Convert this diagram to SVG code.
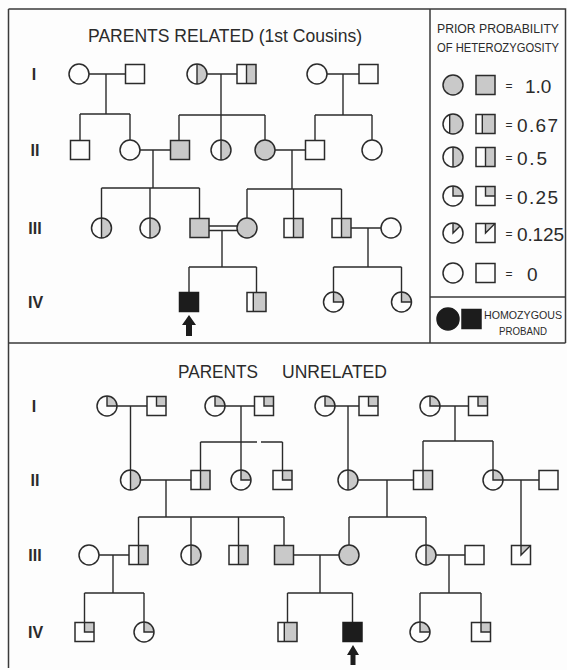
<svg xmlns="http://www.w3.org/2000/svg" width="567" height="670" viewBox="0 0 567 670">
<style>
.ln{fill:none;stroke:#2b2b2b;stroke-width:1.4}
.ol{fill:none;stroke:#2b2b2b;stroke-width:1.5}
.wf{fill:#fdfdfd}
.sh{fill:#c9c9c9}
.blk{fill:#1c1c1c;stroke:#1c1c1c;stroke-width:1.5}
.t{font-family:"Liberation Sans",Arial,sans-serif;fill:#2b2b2b}
.eq{font-family:"Liberation Sans",Arial,sans-serif;fill:#2b2b2b;font-size:12px}
.gen{font-family:"Liberation Sans",Arial,sans-serif;font-weight:bold;font-size:16px;fill:#2b2b2b;text-anchor:middle}
.frame{fill:none;stroke:#3a3a3a;stroke-width:1.5}
</style>
<defs>
<g id="c0"><circle r="10" class="wf"/><circle r="10" class="ol"/></g>
<g id="c1"><circle r="10" class="sh"/><circle r="10" class="ol"/></g>
<g id="c50"><circle r="10" class="wf"/><path d="M0,-10 A10,10 0 0 1 0,10 Z" class="sh"/><circle r="10" class="ol"/><path d="M0,-10 V10" class="ln"/></g>
<g id="c67"><circle r="10" class="wf"/><path d="M-3.33,-9.43 A10,10 0 1 1 -3.33,9.43 Z" class="sh"/><circle r="10" class="ol"/><path d="M-3.33,-9.43 V9.43" class="ln"/></g>
<g id="c25"><circle r="10" class="wf"/><path d="M0,0 V-10 A10,10 0 0 1 10,0 Z" class="sh"/><circle r="10" class="ol"/><path d="M0,-10 V0 H10" class="ln"/></g>
<g id="c125"><circle r="10" class="wf"/><path d="M0,0 V-10 A10,10 0 0 1 7.07,-7.07 Z" class="sh"/><circle r="10" class="ol"/><path d="M0,-10 V0 L7.07,-7.07" class="ln"/></g>
<g id="s0"><rect x="-9.5" y="-9.5" width="19" height="19" class="wf"/><rect x="-9.5" y="-9.5" width="19" height="19" class="ol"/></g>
<g id="s1"><rect x="-9.5" y="-9.5" width="19" height="19" class="sh"/><rect x="-9.5" y="-9.5" width="19" height="19" class="ol"/></g>
<g id="s50"><rect x="-9.5" y="-9.5" width="19" height="19" class="wf"/><rect x="0" y="-9.5" width="9.5" height="19" class="sh"/><rect x="-9.5" y="-9.5" width="19" height="19" class="ol"/><path d="M0,-9.5 V9.5" class="ln"/></g>
<g id="s67"><rect x="-9.5" y="-9.5" width="19" height="19" class="wf"/><rect x="-3.2" y="-9.5" width="12.7" height="19" class="sh"/><rect x="-9.5" y="-9.5" width="19" height="19" class="ol"/><path d="M-3.2,-9.5 V9.5" class="ln"/></g>
<g id="s25"><rect x="-9.5" y="-9.5" width="19" height="19" class="wf"/><rect x="0" y="-9.5" width="9.5" height="9.5" class="sh"/><rect x="-9.5" y="-9.5" width="19" height="19" class="ol"/><path d="M0,-9.5 V0 H9.5" class="ln"/></g>
<g id="s125"><rect x="-9.5" y="-9.5" width="19" height="19" class="wf"/><path d="M0,0 V-9.5 H9.5 Z" class="sh"/><rect x="-9.5" y="-9.5" width="19" height="19" class="ol"/><path d="M0,-9.5 V0 L9.5,-9.5" class="ln"/></g>
<g id="sB"><rect x="-9.5" y="-9.5" width="19" height="19" class="blk"/></g>
</defs>

<rect x="0" y="0" width="567" height="670" fill="#fdfdfd"/>

<g id="frame">
<path d="M8.5,9 H565.5 V343 M8.5,9 V668 M8.5,343 H565.5 M430,9 V343 M430,297 H565.5" class="frame"/>
</g>

<g id="titles">
<text class="t" x="88" y="42" font-size="19" textLength="274" lengthAdjust="spacingAndGlyphs">PARENTS RELATED (1st Cousins)</text>
<text class="t" x="178" y="378" font-size="18" textLength="80" lengthAdjust="spacingAndGlyphs">PARENTS</text>
<text class="t" x="282" y="378" font-size="18" textLength="105" lengthAdjust="spacingAndGlyphs">UNRELATED</text>
</g>

<g id="generation-labels">
<text class="gen" x="34" y="80">I</text>
<text class="gen" x="35" y="156">II</text>
<text class="gen" x="35" y="234">III</text>
<text class="gen" x="35.5" y="308">IV</text>
<text class="gen" x="34" y="412">I</text>
<text class="gen" x="35" y="486">II</text>
<text class="gen" x="35" y="561">III</text>
<text class="gen" x="35.5" y="638">IV</text>
</g>

<g id="legend">
<text class="t" x="437" y="33" font-size="12" textLength="122" lengthAdjust="spacingAndGlyphs">PRIOR PROBABILITY</text>
<text class="t" x="437" y="52" font-size="12" textLength="122" lengthAdjust="spacingAndGlyphs">OF HETEROZYGOSITY</text>
<use href="#c1" x="453" y="85"/><use href="#s1" x="485.5" y="85"/>
<text class="eq" x="505.5" y="89.5">=</text><text class="t" x="525" y="92.5" font-size="19">1.0</text>
<use href="#c67" x="453" y="124"/><use href="#s67" x="485.5" y="124"/>
<text class="eq" x="505.5" y="128.5">=</text><text class="t" x="517" y="131.5" font-size="19" textLength="41">0.67</text>
<use href="#c50" x="453" y="157"/><use href="#s50" x="485.5" y="157"/>
<text class="eq" x="505.5" y="161.5">=</text><text class="t" x="517" y="164.5" font-size="19" textLength="30">0.5</text>
<use href="#c25" x="453" y="196"/><use href="#s25" x="485.5" y="196"/>
<text class="eq" x="505.5" y="200.5">=</text><text class="t" x="517" y="203.5" font-size="19" textLength="41">0.25</text>
<use href="#c125" x="453" y="233"/><use href="#s125" x="485.5" y="233"/>
<text class="eq" x="505.5" y="237.5">=</text><text class="t" x="517" y="240.5" font-size="19" textLength="47">0.125</text>
<use href="#c0" x="453" y="273"/><use href="#s0" x="485.5" y="273"/>
<text class="eq" x="505.5" y="277.5">=</text><text class="t" x="527" y="280.5" font-size="19">0</text>
<circle cx="448" cy="319" r="11" class="blk"/>
<rect x="462" y="309.5" width="19" height="19" class="blk"/>
<text class="t" x="484" y="319" font-size="11.5" textLength="78" lengthAdjust="spacingAndGlyphs">HOMOZYGOUS</text>
<text class="t" x="499" y="334.5" font-size="11.5" textLength="48" lengthAdjust="spacingAndGlyphs">PROBAND</text>
</g>

<g id="connectors">
<!-- top panel -->
<path class="ln" d="M89,74 H125.5 M106,74 V114 M80,114 H130 M80,114 V140.5 M130,114 V140"/>
<path class="ln" d="M207,74 H237 M221,74 V140 M179,115 H265 M179,115 V140.5 M265,115 V140"/>
<path class="ln" d="M327,74 H359 M343,74 V115 M315,115 H372 M315,115 V140.5 M372,115 V140"/>
<path class="ln" d="M140,150 H170.5 M153,150 V188 M101.5,188 H199.5 M101.5,188 V218 M150,188 V218 M199.5,188 V218.5"/>
<path class="ln" d="M275,150 H305.5 M292,150 V189 M247,189 H341.5 M247,189 V218 M293.5,189 V218.5 M341.5,189 V218.5"/>
<path class="ln" d="M209,226 H237 M209,230.5 H237 M222,230.5 V267 M189,267 H256.5 M189,267 V292.5 M256.5,267 V292.5"/>
<path class="ln" d="M351,228 H381 M368,228 V267 M333.5,267 H401.5 M333.5,267 V292 M401.5,267 V292"/>
<!-- bottom panel -->
<path class="ln" d="M117,406 H147 M130.5,406 V470"/>
<path class="ln" d="M225,406 H254.5 M241,406 V470 M200.5,442 H257 M261,442 H282.5 M200.5,442 V470.5 M282.5,442 V470.5"/>
<path class="ln" d="M335,406 H359 M348,406 V470"/>
<path class="ln" d="M440,406 H468.5 M455,406 V441 M423,441 H493 M423,441 V470.5 M493,441 V470"/>
<path class="ln" d="M140.5,480 H191 M166,480 V517 M138.5,517 H284 M138.5,517 V545.5 M191,517 V545 M238.5,517 V545.5 M284,517 V545.5"/>
<path class="ln" d="M358,480 H413.5 M387,480 V517 M349,517 H426 M349,517 V545 M426,517 V545"/>
<path class="ln" d="M503,480 H539 M521,480 V545.5"/>
<path class="ln" d="M99,555 H129 M113,555 V593 M84.5,593 H144 M84.5,593 V622.5 M144,593 V622"/>
<path class="ln" d="M293.5,555 H339 M320,555 V593 M287.5,593 H352.5 M287.5,593 V622.5 M352.5,593 V622.5"/>
<path class="ln" d="M436,555 H465 M449,555 V593 M420,593 H481 M420,593 V622 M481,593 V622.5"/>
</g>

<!-- top panel nodes -->
<g id="t-I-1"><use href="#c0" x="79" y="74"/></g>
<g id="t-I-2"><use href="#s0" x="135" y="74"/></g>
<g id="t-I-3"><use href="#c50" x="197" y="74"/></g>
<g id="t-I-4"><use href="#s50" x="246.5" y="74"/></g>
<g id="t-I-5"><use href="#c0" x="317" y="74"/></g>
<g id="t-I-6"><use href="#s0" x="368.5" y="74"/></g>
<g id="t-II-1"><use href="#s0" x="80" y="150"/></g>
<g id="t-II-2"><use href="#c0" x="130" y="150"/></g>
<g id="t-II-3"><use href="#s1" x="180" y="150"/></g>
<g id="t-II-4"><use href="#c50" x="221" y="150"/></g>
<g id="t-II-5"><use href="#c1" x="265" y="150"/></g>
<g id="t-II-6"><use href="#s0" x="315" y="150"/></g>
<g id="t-II-7"><use href="#c0" x="372" y="150"/></g>
<g id="t-III-1"><use href="#c50" x="101.5" y="228"/></g>
<g id="t-III-2"><use href="#c50" x="150" y="228"/></g>
<g id="t-III-3"><use href="#s1" x="199.5" y="228"/></g>
<g id="t-III-4"><use href="#c1" x="247" y="228"/></g>
<g id="t-III-5"><use href="#s50" x="293.5" y="228"/></g>
<g id="t-III-6"><use href="#s50" x="341.5" y="228"/></g>
<g id="t-III-7"><use href="#c0" x="391" y="228"/></g>
<g id="t-IV-1"><use href="#sB" x="189" y="302"/><polygon points="189,315 182,325 186,325 186,336 192,336 192,325 196,325" fill="#1c1c1c"/></g>
<g id="t-IV-2"><use href="#s67" x="256.5" y="302"/></g>
<g id="t-IV-3"><use href="#c25" x="333.5" y="302"/></g>
<g id="t-IV-4"><use href="#c25" x="401.5" y="302"/></g>

<!-- bottom panel nodes -->
<g id="b-I-1"><use href="#c25" x="107" y="406"/></g>
<g id="b-I-2"><use href="#s25" x="156.5" y="406"/></g>
<g id="b-I-3"><use href="#c25" x="215" y="406"/></g>
<g id="b-I-4"><use href="#s25" x="264" y="406"/></g>
<g id="b-I-5"><use href="#c25" x="325" y="406"/></g>
<g id="b-I-6"><use href="#s25" x="368.5" y="406"/></g>
<g id="b-I-7"><use href="#c25" x="430" y="406"/></g>
<g id="b-I-8"><use href="#s25" x="478" y="406"/></g>
<g id="b-II-1"><use href="#c50" x="130.5" y="480"/></g>
<g id="b-II-2"><use href="#s50" x="200.5" y="480"/></g>
<g id="b-II-3"><use href="#c25" x="241" y="480"/></g>
<g id="b-II-4"><use href="#s25" x="282.5" y="480"/></g>
<g id="b-II-5"><use href="#c50" x="348" y="480"/></g>
<g id="b-II-6"><use href="#s50" x="423" y="480"/></g>
<g id="b-II-7"><use href="#c25" x="493" y="480"/></g>
<g id="b-II-8"><use href="#s0" x="548.5" y="480"/></g>
<g id="b-III-1"><use href="#c0" x="89" y="555"/></g>
<g id="b-III-2"><use href="#s50" x="138.5" y="555"/></g>
<g id="b-III-3"><use href="#c50" x="191" y="555"/></g>
<g id="b-III-4"><use href="#s50" x="238.5" y="555"/></g>
<g id="b-III-5"><use href="#s1" x="284" y="555"/></g>
<g id="b-III-6"><use href="#c1" x="349" y="555"/></g>
<g id="b-III-7"><use href="#c50" x="426" y="555"/></g>
<g id="b-III-8"><use href="#s0" x="474.5" y="555"/></g>
<g id="b-III-9"><use href="#s125" x="521" y="555"/></g>
<g id="b-IV-1"><use href="#s25" x="84.5" y="632"/></g>
<g id="b-IV-2"><use href="#c25" x="144" y="632"/></g>
<g id="b-IV-3"><use href="#s67" x="287.5" y="632"/></g>
<g id="b-IV-4"><use href="#sB" x="352.5" y="632"/><polygon points="353,645 347,655 350.5,655 350.5,665 355.5,665 355.5,655 359,655" fill="#1c1c1c"/></g>
<g id="b-IV-5"><use href="#c25" x="420" y="632"/></g>
<g id="b-IV-6"><use href="#s25" x="481" y="632"/></g>
</svg>
